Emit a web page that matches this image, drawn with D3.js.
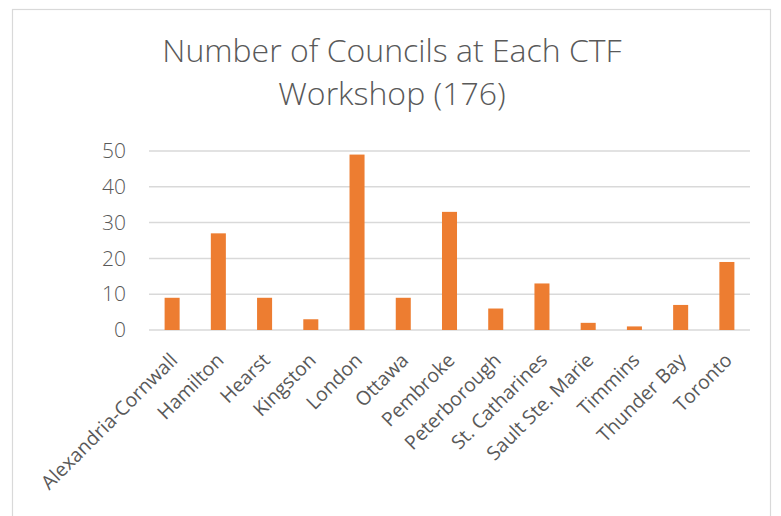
<html>
<head>
  <meta charset="utf-8">
  <style>
    body { margin: 0; background: #fff; }
    text { fill: #595959; }
  </style>
</head>
<body>
  <script src="https://d3js.org/d3.v7.min.js"></script>
  <script>
    // workshop locations and number of councils at each
    var sites = ['Alexandria-Cornwall', 'Hamilton', 'Hearst', 'Kingston', 'London', 'Ottawa', 'Pembroke',
      'Peterborough', 'St. Catharines', 'Sault Ste. Marie', 'Timmins', 'Thunder Bay', 'Toronto']
    var councils = [9, 27, 9, 3, 49, 9, 33, 6, 13, 2, 1, 7, 19]
    var yTicks = [0, 10, 20, 30, 40, 50]
    var titleLines = ['Number of Councils at Each CTF', 'Workshop (176)']

    var width = 781, height = 516
    var margin = { left: 149, right: 31, top: 151, bottom: 186 }

    var svg = d3.select('body').append('svg')
      .attr('width', width)
      .attr('height', height)

    // chart frame
    svg.append('rect')
      .attr('x', 12.5).attr('y', 9.5)
      .attr('width', 758).attr('height', 520)
      .attr('fill', '#fff')
      .attr('stroke', '#d9d9d9')
      .attr('stroke-width', 1.2)

    var x = d3.scaleBand()
      .domain(sites)
      .range([margin.left, width - margin.right])
      .paddingInner(0.675)
      .paddingOuter(0.3375)

    var y = d3.scaleLinear()
      .domain([0, 50])
      .range([height - margin.bottom, margin.top])

    // gridlines
    svg.append('g')
      .selectAll('line')
      .data(yTicks)
      .enter()
      .append('line')
      .attr('x1', margin.left)
      .attr('x2', width - margin.right)
      .attr('y1', d => y(d))
      .attr('y2', d => y(d))
      .attr('stroke', '#d9d9d9')
      .attr('stroke-width', 1.5)

    // y axis labels
    var yAxis = d3.axisLeft(y).tickValues(yTicks).tickSize(0).tickPadding(23)
    var gy = svg.append('g')
      .attr('transform', `translate(${margin.left},0)`)
      .call(yAxis)
    gy.select('.domain').remove()
    gy.selectAll('text')
      .attr('font-family', 'Open Sans, sans-serif')
      .attr('font-weight', 300)
      .attr('font-size', '21px')
      .style('fill', '#595959')

    // bars
    svg.append('g')
      .selectAll('rect')
      .data(councils)
      .enter()
      .append('rect')
      .attr('x', (d, i) => x(sites[i]))
      .attr('width', x.bandwidth())
      .attr('y', d => y(d))
      .attr('height', d => y(0) - y(d))
      .attr('fill', '#ed7d31')

    // x labels, rotated
    var xAxis = d3.axisBottom(x).tickSize(0).tickPadding(0)
    var gx = svg.append('g')
      .attr('transform', `translate(0,${y(0)})`)
      .call(xAxis)
    gx.select('.domain').remove()
    gx.selectAll('text')
      .attr('font-family', 'Open Sans, sans-serif')
      .attr('font-size', '19.5px')
      .attr('text-anchor', 'end')
      .attr('y', 0)
      .attr('dy', 0)
      .attr('transform', 'translate(6.5,31.5) rotate(-45)')
      .style('fill', '#595959')

    // title
    svg.append('g')
      .selectAll('text')
      .data(titleLines)
      .enter()
      .append('text')
      .attr('x', 392)
      .attr('y', (d, i) => 62 + i * 43)
      .attr('text-anchor', 'middle')
      .attr('font-family', 'Open Sans, sans-serif')
      .attr('font-weight', 300)
      .attr('font-size', '32px')
      .text(d => d)
  </script>
</body>
</html>
